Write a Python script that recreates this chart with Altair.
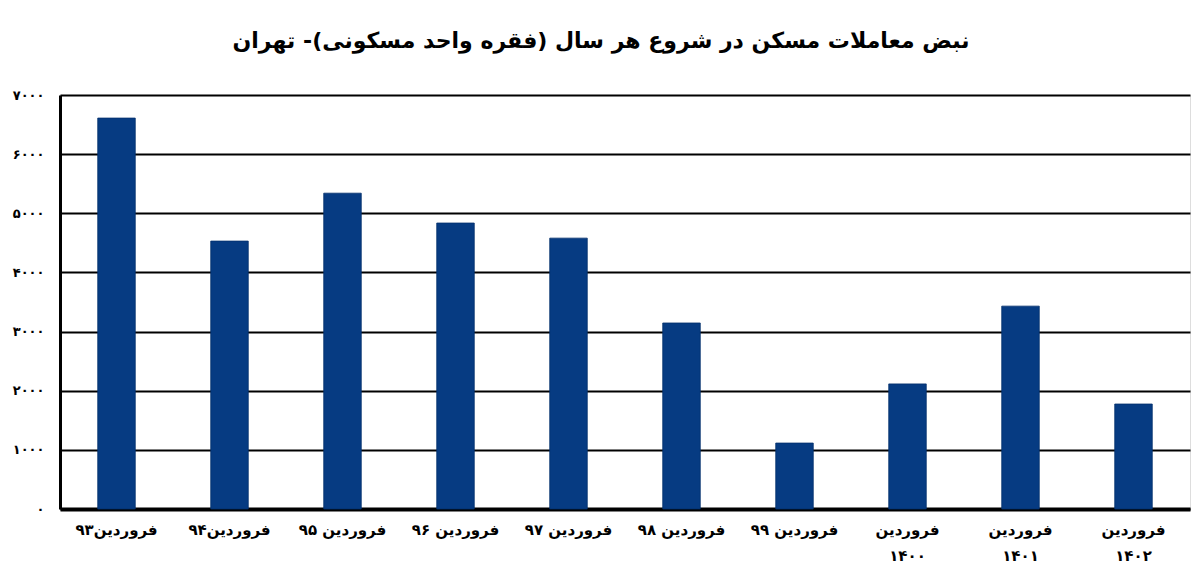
import json
import altair as alt
import pandas as pd

# ---- data ----
categories = [
    "فروردین۹۳", "فروردین۹۴", "فروردین ۹۵", "فروردین ۹۶", "فروردین ۹۷",
    "فروردین ۹۸", "فروردین ۹۹", "فروردین\n۱۴۰۰", "فروردین\n۱۴۰۱", "فروردین\n۱۴۰۲",
]
values = [6610, 4530, 5340, 4835, 4580, 3145, 1115, 2115, 3430, 1775]

y_tick_values = [0, 1000, 2000, 3000, 4000, 5000, 6000, 7000]
y_tick_labels = ["۰", "۱۰۰۰", "۲۰۰۰", "۳۰۰۰", "۴۰۰۰", "۵۰۰۰", "۶۰۰۰", "۷۰۰۰"]

title_text = "نبض معاملات مسکن در شروع هر سال (فقره واحد مسکونی)- تهران"

df = pd.DataFrame({"cat": categories, "val": values})

FONT = "DejaVu Sans"

y_label_expr = "{}[indexof({}, datum.value)]".format(
    json.dumps(y_tick_labels, ensure_ascii=False), json.dumps(y_tick_values)
)

chart = (
    alt.Chart(df)
    .mark_bar(color="#063b82", stroke="#04306c", strokeWidth=0.8)
    .encode(
        x=alt.X(
            "cat:N",
            sort=categories,
            title=None,
            scale=alt.Scale(paddingInner=0.668, paddingOuter=0.334),
            axis=alt.Axis(
                labelAngle=0,
                labelExpr="split(datum.label, '\\n')",
                labelFont=FONT,
                labelFontSize=15,
                labelFontWeight="bold",
                labelColor="#000000",
                labelPadding=13,
                labelLineHeight=26,
                ticks=False,
                domainColor="#000000",
                domainWidth=4,
                grid=False,
            ),
        ),
        y=alt.Y(
            "val:Q",
            title=None,
            scale=alt.Scale(domain=[0, 7000], nice=False),
            axis=alt.Axis(
                values=y_tick_values,
                labelExpr=y_label_expr,
                labelFont=FONT,
                labelFontSize=13,
                labelFontWeight="bold",
                labelColor="#000000",
                labelPadding=16,
                ticks=False,
                domainColor="#000000",
                domainWidth=3,
                grid=True,
                gridColor="#000000",
                gridWidth=2,
                gridOpacity=1,
            ),
        ),
    )
    .properties(
        width=1130,
        height=414,
        autosize="none",
        padding={"left": 52, "top": 87, "right": 2, "bottom": 60},
        title=alt.TitleParams(
            title_text,
            font=FONT,
            fontSize=22,
            fontWeight="bold",
            color="#000000",
            anchor="middle",
            dx=-24,
            offset=36,
        ),
    )
    .configure_view(stroke=None)
    .configure(background="#ffffff")
)

chart.save("out.html", embed_options={"renderer": "svg", "actions": False})
